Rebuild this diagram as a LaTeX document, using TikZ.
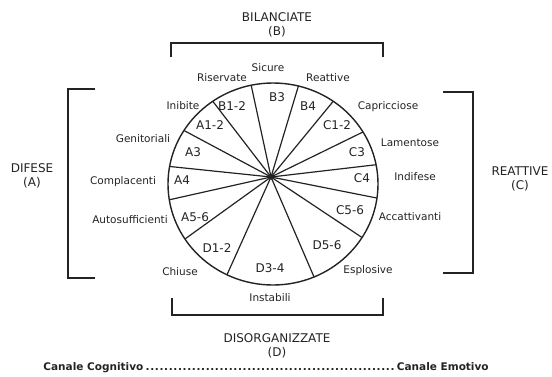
\documentclass[tikz,border=0pt]{standalone}
\usepackage{fontspec}
\setmainfont{DejaVu Sans}
\usepackage{xcolor}
\definecolor{ink}{RGB}{35,35,35}
\definecolor{hubgrey}{RGB}{125,125,125}
\usepackage{tikz}
\usetikzlibrary{calc}
\tikzset{
  seglabel/.style={font=\fontsize{12}{14}\selectfont, text=ink, inner sep=1pt},
  outlabel/.style={font=\fontsize{10.5}{12}\selectfont, text=ink, inner sep=1pt},
  grouplabel/.style={font=\fontsize{12}{14.5}\selectfont, text=ink, align=center, inner sep=1pt},
  bracket/.style={draw=ink, line width=1.3pt},
  spoke/.style={draw=ink, line width=1.2pt},
}

\begin{document}
\begin{tikzpicture}[x=1pt,y=-1pt]
\useasboundingbox (0,0) rectangle (552,376);
% wheel
\coordinate (ctr) at (273,184);
\node[circle,fill=hubgrey,inner sep=0pt,minimum size=6pt] (hub) at (271,177) {};
\draw[ink,line width=1.4pt] (ctr) ellipse [x radius=105pt, y radius=101pt];
\foreach \a in {102,76,55,31,11,-8,-32,-67,-116,-147,-171,170,148,125}
  \draw[spoke] (hub.center) -- ([shift={(\a:105pt and 101pt)}]ctr);
% sectors
\foreach \t/\x/\y in {B3/277/97, B1-2/232/106, B4/308/106, A1-2/210/125,
    C1-2/337/125, A3/193/152, C3/357/152, A4/182/180, C4/362/178,
    A5-6/195/217, C5-6/350/210, D1-2/217/248, D5-6/327/245, D3-4/270/268}
  \node[seglabel] (s\t) at (\x,\y) {\t};
% outer labels
\node[outlabel] (sicure) at (268,68) {Sicure};
\node[outlabel] (riservate) at (222,78) {Riservate};
\node[outlabel] (reattive) at (328,78) {Reattive};
\node[outlabel] (inibite) at (183,106) {Inibite};
\node[outlabel] (capricciose) at (388,107) {Capricciose};
\node[outlabel] (genitoriali) at (143,139) {Genitoriali};
\node[outlabel] (lamentose) at (410,143) {Lamentose};
\node[outlabel] (complacenti) at (123,182) {Complacenti};
\node[outlabel] (indifese) at (415,177) {Indifese};
\node[outlabel] (autosufficienti) at (130,220) {Autosufficienti};
\node[outlabel] (accattivanti) at (410,217) {Accattivanti};
\node[outlabel] (chiuse) at (180,272) {Chiuse};
\node[outlabel] (esplosive) at (368,271) {Esplosive};
\node[outlabel] (instabili) at (270,298) {Instabili};
% brackets
\draw[bracket] (171,57) -- (171,43) -- (383,43) -- (383,57);
\draw[bracket] (172,298) -- (172,315) -- (383,315) -- (383,298);
\draw[bracket] (95,89) -- (68,89) -- (68,278) -- (95,278);
\draw[bracket] (443,92) -- (473,92) -- (473,273) -- (443,273);
% groups
\node[grouplabel] (bilanciate) at (277,25) {BILANCIATE\\(B)};
\node[grouplabel] (difese) at (32,176) {DIFESE\\(A)};
\node[grouplabel] (reattivec) at (520,179) {REATTIVE\\(C)};
\node[grouplabel] (disorganizzate) at (277,346) {DISORGANIZZATE\\(D)};
\node[font=\fontsize{10.5}{12}\selectfont\bfseries,text=ink,inner sep=0pt] (canali) at (266,368)
  {Canale Cognitivo\,\hbox to 250pt{\dotfill}\,Canale Emotivo};
\end{tikzpicture}
\end{document}
